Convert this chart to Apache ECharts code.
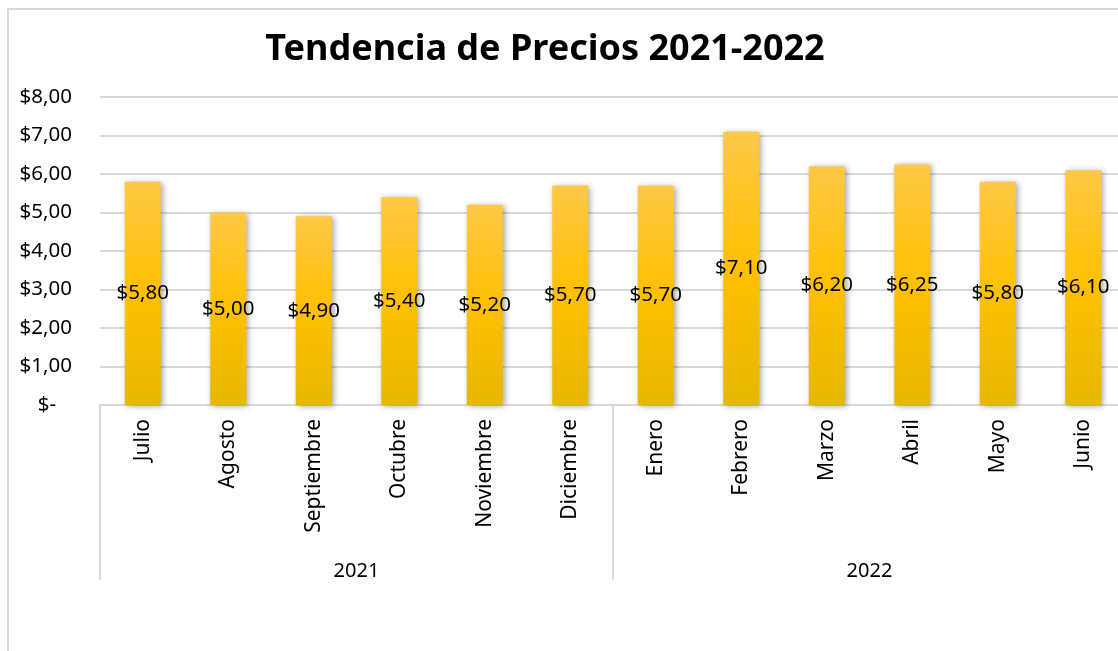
<!DOCTYPE html>
<html>
<head>
<meta charset="utf-8">
<title>Tendencia de Precios 2021-2022</title>
<script src="https://cdn.jsdelivr.net/npm/echarts@6/dist/echarts.min.js"></script>
<style>
    html, body { margin: 0; padding: 0; background: #fff; overflow: hidden; }
    /* el grafico original sale cortado por la derecha */
    #main { width: 1130px; height: 651px; }
</style>
</head>
<body>
<div id="main"></div>
<script>
// datos
let meses = ['Julio', 'Agosto', 'Septiembre', 'Octubre', 'Noviembre', 'Diciembre',
    'Enero', 'Febrero', 'Marzo', 'Abril', 'Mayo', 'Junio']
let anios = ['2021', '2022']
let precios = [5.80, 5.00, 4.90, 5.40, 5.20, 5.70, 5.70, 7.10, 6.20, 6.25, 5.80, 6.10]

let fuente = '"Noto Sans", "Open Sans", sans-serif'

function moneda(v) {
    if (v === 0) return '$-   '
    return '$' + v.toFixed(2).replace('.', ',')
}

function initChart() {
    let chart = echarts.init(document.getElementById('main'))
    let option = {
        backgroundColor: '#fff',
        textStyle: { fontFamily: fuente },
        title: {
            text: 'Tendencia de Precios 2021-2022',
            left: 540,
            textAlign: 'center',
            top: 27,
            textStyle: {
                fontFamily: fuente,
                fontSize: 36,
                fontWeight: 'bold',
                color: '#000'
            }
        },
        graphic: [
            {
                type: 'rect',
                shape: { x: 8, y: 9, width: 1300, height: 800 },
                style: { fill: null, stroke: '#d9d9d9', lineWidth: 2 },
                silent: true
            }
        ],
        grid: {
            left: 100,
            top: 97,
            width: 1026,
            bottom: 246
        },
        xAxis: [
            {
                type: 'category',
                data: meses,
                position: 'bottom',
                axisLine: { lineStyle: { color: '#d9d9d9', width: 2 } },
                axisTick: {
                    show: true,
                    length: 175,
                    interval: function (index) { return index === 0 || index === 6 },
                    lineStyle: { color: '#d9d9d9', width: 2 }
                },
                axisLabel: {
                    rotate: 90,
                    margin: 14,
                    color: '#000',
                    fontSize: 21,
                    fontFamily: fuente
                }
            },
            {
                type: 'category',
                data: anios,
                position: 'bottom',
                offset: 148,
                axisLine: { show: false },
                axisTick: { show: false },
                axisLabel: {
                    color: '#000',
                    fontSize: 20,
                    fontFamily: fuente
                }
            }
        ],
        yAxis: {
            type: 'value',
            min: 0,
            max: 8,
            interval: 1,
            axisLine: { show: false },
            axisTick: { show: false },
            splitLine: { lineStyle: { color: '#d9d9d9', width: 2 } },
            axisLabel: {
                formatter: moneda,
                color: '#000',
                fontSize: 20.5,
                margin: 28,
                fontFamily: fuente
            }
        },
        series: [
            {
                name: 'Precio',
                type: 'bar',
                data: precios,
                barWidth: 36,
                xAxisIndex: 0,
                itemStyle: {
                    color: new echarts.graphic.LinearGradient(0, 0, 0, 1, [
                        { offset: 0, color: '#FFC847' },
                        { offset: 0.5, color: '#FFC000' },
                        { offset: 1, color: '#E6B800' }
                    ]),
                    shadowColor: 'rgba(0, 0, 0, 0.35)',
                    shadowBlur: 6,
                    shadowOffsetX: 2,
                    shadowOffsetY: 1
                },
                label: {
                    show: true,
                    position: 'inside',
                    color: '#000',
                    fontSize: 20.5,
                    fontFamily: fuente,
                    formatter: function (p) { return moneda(p.value) }
                }
            }
        ]
    }
    chart.setOption(option)
}

initChart()
</script>
</body>
</html>
